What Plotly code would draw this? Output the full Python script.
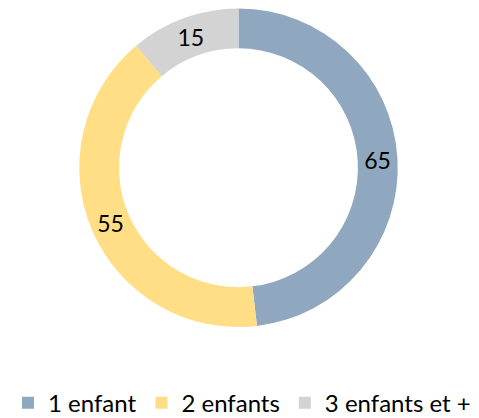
import plotly.graph_objects as go

categories = ["1 enfant", "2 enfants", "3 enfants et +"]
values = [65, 55, 15]
colors = ["#8FA7BF", "#FFDE85", "#D3D3D3"]

W, H = 479, 418
OFF = 8  # page body margin offset

x0, x1 = 81 - 2.5 - OFF, 396 + 2.5 - OFF
y0, y1 = 11 - 2.5 - OFF, 326 + 2.5 - OFF

fig = go.Figure(go.Pie(
    labels=categories,
    values=values,
    hole=0.75,
    sort=False,
    direction="clockwise",
    rotation=0,
    marker=dict(colors=colors, line=dict(width=0)),
    textinfo="value",
    textposition="inside",
    insidetextorientation="horizontal",
    textfont=dict(size=23, color="black", family="Lato"),
    domain=dict(x=[x0 / W, x1 / W], y=[1 - y1 / H, 1 - y0 / H]),
))
fig.update_layout(
    width=W, height=H,
    margin=dict(l=0, r=0, t=0, b=0),
    paper_bgcolor="white",
    font=dict(family="Lato", size=24, color="black"),
    legend=dict(orientation="h", x=(237 - OFF) / W, xanchor="center", y=1 - (405 - OFF) / H,
                yanchor="middle", font=dict(size=24), itemwidth=30),
)
fig.write_html("out.html")
